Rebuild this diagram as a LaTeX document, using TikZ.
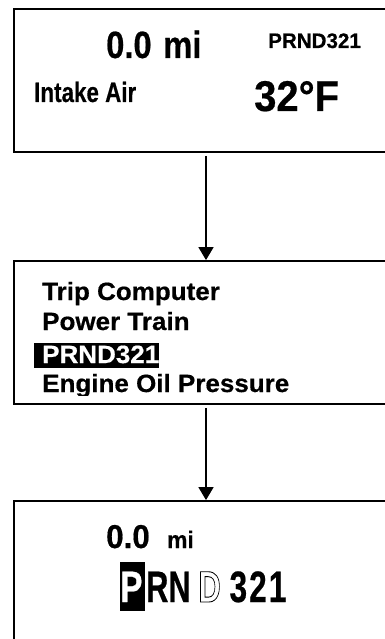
\documentclass[tikz,border=0pt]{standalone}
\usepackage{fontspec}
\setmainfont{Liberation Sans}[BoldFeatures={FakeBold=0.5}]
\newfontfamily\olf{Liberation Sans}
\usepackage{graphicx}
\usetikzlibrary{arrows.meta}
\newcommand{\fsz}[1]{\fontsize{#1}{#1}\selectfont\bfseries}
\newcommand{\outlined}[1]{\special{pdf:literal direct 1 Tr 0.9 w}#1\special{pdf:literal direct 0 Tr}}

\begin{document}
\begin{tikzpicture}[x=1pt,y=-1pt,
  panel/.style={draw=black, line width=1.8pt, minimum width=384pt, minimum height=143pt, inner sep=0pt},
  txt/.style={anchor=base west, inner sep=0pt},
  hilite/.style={fill=black, inner sep=0pt},
  conn/.style={line width=1.6pt, -{Triangle[width=15pt,length=13pt]}}]
\useasboundingbox (0,0) rectangle (385,639);
\clip (0,0) rectangle (385,639);

% panels
\node[panel] (p1) at (206,80.5) {};
\node[panel] (p2) at (206,332.5) {};
\node[panel] (p3) at (206,572.5) {};

% connectors
\draw[conn, shorten <=3pt] (p1) -- (p2);
\draw[conn, shorten <=3pt] (p2) -- (p3);

% panel 1
\node[txt] (odo1) at (106,58) {\fsz{38}\scalebox{0.86}[1]{0.0\hspace{3pt} mi}};
\node[txt] (gear1) at (268,48) {\fsz{21}\scalebox{0.98}[1]{PRND321}};
\node[txt] (intake) at (34,102) {\fsz{28}\scalebox{0.8}[1]{Intake Air}};
\node[txt] (temp) at (254,111) {\fsz{43}\scalebox{0.93}[1]{32°F}};

% panel 2
\begin{scope}
\clip (14,261) rectangle (398,395);
\node[txt] (m1) at (42,300) {\fsz{25}\scalebox{1.04}[1]{Trip Computer}};
\node[txt] (m2) at (42,330) {\fsz{25}\scalebox{1.04}[1]{Power Train}};
\node[hilite, minimum width=125pt, minimum height=25pt] (hl) at (96.5,355.5) {};
\node[txt, text=white] (m3) at (42,363) {\fsz{25}\scalebox{1.04}[1]{PRND321}};
\node[txt] (m4) at (42,392) {\fsz{25}\scalebox{1.04}[1]{Engine Oil Pressure}};
\end{scope}

% panel 3
\node[txt] (odo3) at (106,548) {\fsz{33}\scalebox{0.95}[1]{0.0}};
\node[txt] (unit3) at (167,548) {\fsz{24}\scalebox{0.95}[1]{mi}};
\node[hilite, minimum width=25pt, minimum height=49pt] (pbox) at (132.5,586.5) {};
\node[txt] (gear3) at (120,602) {\fsz{44}%
  \textcolor{white}{\scalebox{0.76}[1]{P}}\hspace{3.7pt}%
  \scalebox{0.7}[1]{R}\hspace{0pt}%
  \scalebox{0.7}[1]{N}\hspace{7.8pt}%
  {\olf\fontsize{44}{44}\selectfont\bfseries\scalebox{0.7}[1]{\outlined{D}}}\hspace{8.8pt}%
  \scalebox{0.72}[1]{3}\hspace{2pt}\scalebox{0.72}[1]{2}\hspace{2pt}\scalebox{0.72}[1]{1}};
\end{tikzpicture}
\end{document}
